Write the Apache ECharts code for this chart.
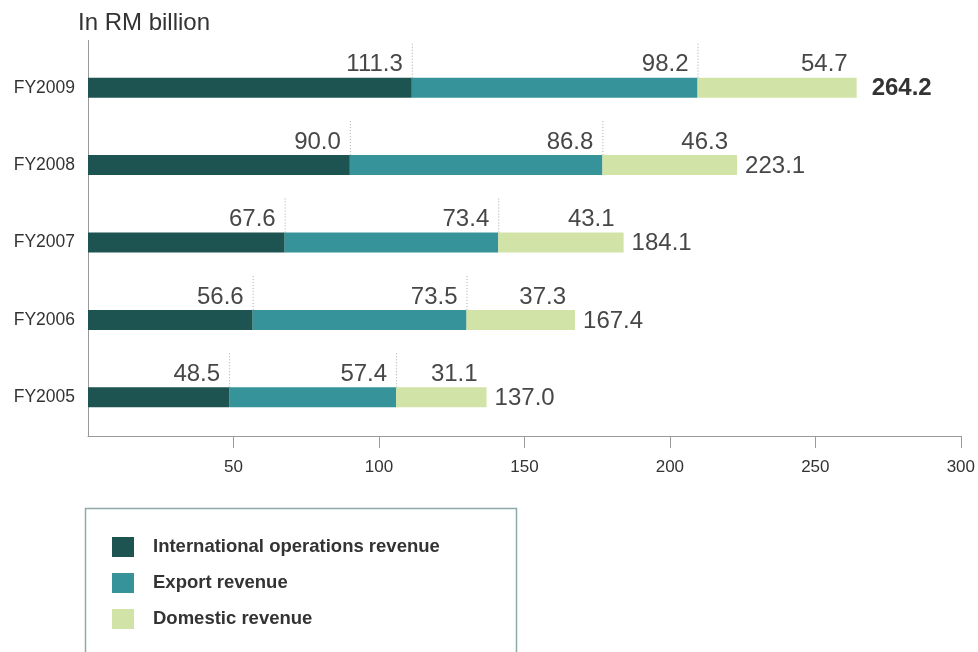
<!DOCTYPE html>
<html>
<head>
<meta charset="utf-8">
<script src="https://cdn.jsdelivr.net/npm/echarts@6/dist/echarts.min.js"></script>
<style>
  html, body { margin: 0; padding: 0; background: #fff; }
  #chart { width: 978px; height: 652px; }
</style>
</head>
<body>
<div id="chart"></div>
<script>
// Revenue breakdown by financial year (RM billion)
const categories = ['FY2005', 'FY2006', 'FY2007', 'FY2008', 'FY2009'];
const intlRevenue = [48.5, 56.6, 67.6, 90.0, 111.3];
const exportRevenue = [57.4, 73.5, 73.4, 86.8, 98.2];
const domesticRevenue = [31.1, 37.3, 43.1, 46.3, 54.7];
const totalRevenue = [137.0, 167.4, 184.1, 223.1, 264.2];
const xTicks = [50, 100, 150, 200, 250, 300];
const seriesNames = ['International operations revenue', 'Export revenue', 'Domestic revenue'];

const colors = ['#1d5452', '#37939a', '#d2e3a7'];
const FONT = '"Liberation Sans", Arial, Helvetica, sans-serif';
const BAR_W = 20;

const segLabel = {
  show: true,
  position: ['100%', 0],
  align: 'right',
  verticalAlign: 'bottom',
  offset: [-9, -1],
  fontFamily: FONT,
  fontSize: 24,
  color: '#474747',
  formatter: p => p.value.toFixed(1)
};

function barSeries(name, values, color) {
  return {
    name: name,
    type: 'bar',
    stack: 'revenue',
    barWidth: BAR_W,
    data: values,
    itemStyle: { color: color },
    label: segLabel,
    z: 3
  };
}

// Dotted guides at segment boundaries plus the total at the bar end
function renderGuides(params, api) {
  const i = params.dataIndex;
  const b1 = intlRevenue[i];
  const b2 = intlRevenue[i] + exportRevenue[i];
  const children = [];
  [b1, b2].forEach(v => {
    const p = api.coord([v, i]);
    children.push({
      type: 'line',
      shape: { x1: p[0] + 0.5, y1: p[1] - BAR_W / 2 - 34, x2: p[0] + 0.5, y2: p[1] + BAR_W / 2 },
      style: { stroke: '#a8a8a8', lineWidth: 1, lineDash: [1, 2] },
      z2: 0
    });
  });
  const pt = api.coord([totalRevenue[i], i]);
  const isLatest = i === categories.length - 1;
  children.push({
    type: 'text',
    style: {
      text: totalRevenue[i].toFixed(1),
      x: pt[0] + (isLatest ? 15 : 8),
      y: pt[1] + 1,
      verticalAlign: 'middle',
      align: 'left',
      font: (isLatest ? 'bold ' : '') + '24px ' + FONT,
      fill: isLatest ? '#333333' : '#474747'
    }
  });
  return { type: 'group', children: children };
}

const chart = echarts.init(document.getElementById('chart'), null, { renderer: 'canvas' });

chart.setOption({
  animation: false,
  backgroundColor: '#ffffff',
  title: {
    text: 'In RM billion',
    left: 73,
    top: 6,
    textStyle: { fontFamily: FONT, fontSize: 24, fontWeight: 'normal', color: '#333333' }
  },
  grid: { left: 88, right: 15, top: 49, bottom: 216, containLabel: false },
  legend: {
    orient: 'vertical',
    left: 112,
    top: 537,
    padding: 0,
    icon: 'rect',
    itemWidth: 22,
    itemHeight: 20,
    itemGap: 16,
    data: seriesNames,
    textStyle: {
      fontFamily: FONT,
      fontSize: 18.5,
      fontWeight: 'bold',
      color: '#333333',
      padding: [0, 0, 0, 14]
    }
  },
  xAxis: {
    type: 'value',
    min: 0,
    max: 300,
    interval: 50,
    splitLine: { show: false },
    axisLine: { show: true, lineStyle: { color: '#9a9a9a', width: 1 } },
    axisTick: { show: true, length: 12, customValues: xTicks, lineStyle: { color: '#9a9a9a' } },
    axisLabel: {
      customValues: xTicks,
      margin: 23,
      fontFamily: FONT,
      fontSize: 17,
      color: '#333333'
    }
  },
  yAxis: {
    type: 'category',
    data: categories,
    axisLine: { show: true, lineStyle: { color: '#9a9a9a', width: 1 } },
    axisTick: { show: false },
    axisLabel: { margin: 13, fontFamily: FONT, fontSize: 17.5, color: '#333333' }
  },
  graphic: [
    {
      // upward extension of the category axis line
      type: 'line',
      shape: { x1: 88.5, y1: 40, x2: 88.5, y2: 49 },
      style: { stroke: '#9a9a9a', lineWidth: 1 }
    },
    {
      // legend frame
      type: 'rect',
      shape: { x: 85.5, y: 508.5, width: 431, height: 170 },
      style: { fill: 'none', stroke: '#8eaaa8', lineWidth: 1.5 }
    }
  ],
  series: [
    barSeries(seriesNames[0], intlRevenue, colors[0]),
    barSeries(seriesNames[1], exportRevenue, colors[1]),
    barSeries(seriesNames[2], domesticRevenue, colors[2]),
    {
      type: 'custom',
      name: 'guides',
      renderItem: renderGuides,
      data: totalRevenue.map((v, i) => [v, i]),
      encode: { x: 0, y: 1 },
      z: 2,
      silent: true
    }
  ]
});
</script>
</body>
</html>
